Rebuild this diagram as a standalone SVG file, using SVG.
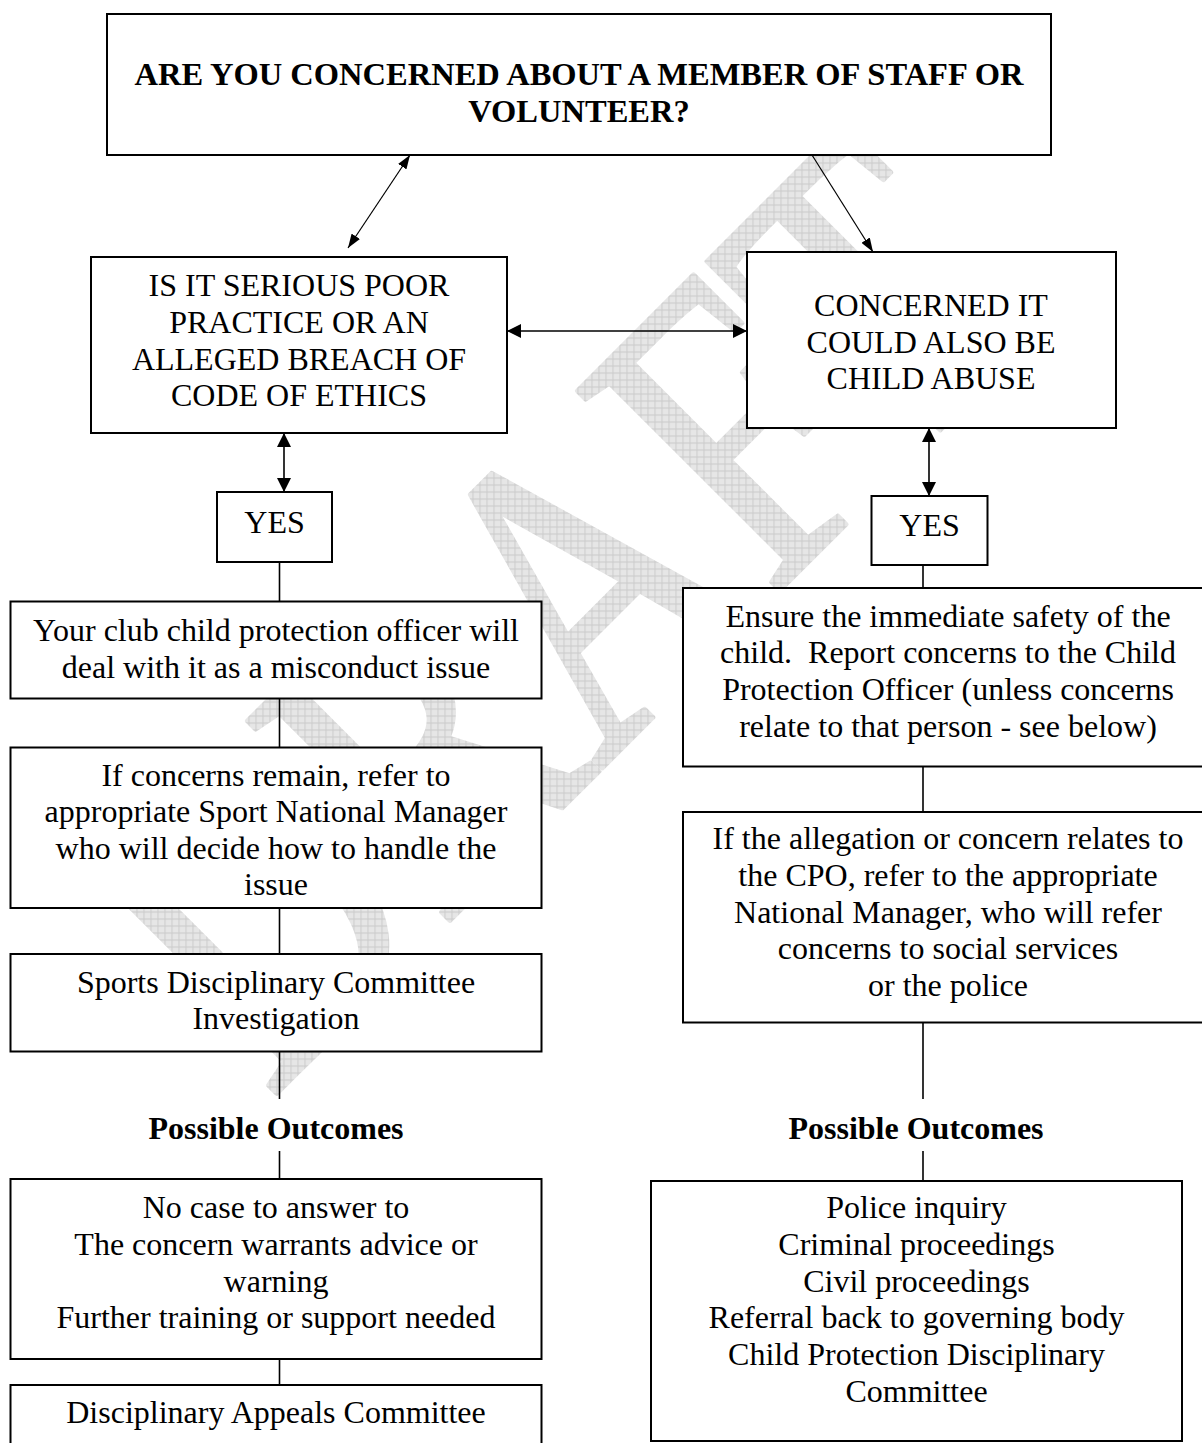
<svg xmlns="http://www.w3.org/2000/svg" width="1202" height="1443" viewBox="0 0 1202 1443">
<style>
.box{fill:#fff;stroke:#000;stroke-width:2}
.t{font-family:"Liberation Serif","Times New Roman",serif;font-size:32px;fill:#000;text-anchor:middle}
.b{font-weight:bold}
.h{font-size:32.5px}
.c{stroke:#000;stroke-width:1.6;fill:none}
.d{stroke:#000;stroke-width:1.2;fill:none}
.wm{font-family:"Liberation Serif","Times New Roman",serif;font-size:336px;fill:url(#grid);stroke:url(#grid);stroke-width:4;stroke-linejoin:round;text-anchor:start}
</style>
<defs>
<pattern id="grid" width="7" height="7" patternUnits="userSpaceOnUse" patternTransform="scale(1,0.7752) rotate(45)">
<rect width="7" height="7" fill="#e6e6e6"/>
<path d="M0,0.5H7M0.5,0V7" stroke="#cbcbcb" stroke-width="1"/>
</pattern>
<marker id="ah" viewBox="0 0 14 14" refX="14" refY="7" markerWidth="14" markerHeight="14" markerUnits="userSpaceOnUse" orient="auto-start-reverse"><path d="M0,0L14,7L0,14z" fill="#000"/></marker>
<marker id="as" viewBox="0 0 14 10" refX="14" refY="5" markerWidth="14" markerHeight="10" markerUnits="userSpaceOnUse" orient="auto-start-reverse"><path d="M0,0L14,5L0,10z" fill="#000"/></marker>
</defs>
<rect width="1202" height="1443" fill="#fff"/>
<g id="watermark">
<text class="wm" transform="translate(269.5,1100.5) rotate(-45) scale(1,1.29)" x="0" y="0">DRAFT</text>
</g>
<g id="connectors">
<line class="d" x1="410" y1="155" x2="348" y2="248" marker-start="url(#as)" marker-end="url(#as)"/>
<line class="d" x1="812" y1="155" x2="873" y2="252" marker-end="url(#as)"/>
<line class="c" x1="507" y1="331" x2="747" y2="331" marker-start="url(#ah)" marker-end="url(#ah)"/>
<line class="c" x1="284" y1="433" x2="284" y2="492" marker-start="url(#ah)" marker-end="url(#ah)"/>
<line class="c" x1="929" y1="428" x2="929" y2="496" marker-start="url(#ah)" marker-end="url(#ah)"/>
<line class="c" x1="279.5" y1="562" x2="279.5" y2="601.5"/>
<line class="c" x1="279.5" y1="698.5" x2="279.5" y2="747.5"/>
<line class="c" x1="279.5" y1="908" x2="279.5" y2="954"/>
<line class="c" x1="279.5" y1="1051.5" x2="279.5" y2="1099"/>
<line class="c" x1="279.5" y1="1151" x2="279.5" y2="1179"/>
<line class="c" x1="279.5" y1="1359" x2="279.5" y2="1385"/>
<line class="c" x1="923" y1="565" x2="923" y2="588"/>
<line class="c" x1="923" y1="766.5" x2="923" y2="812"/>
<line class="c" x1="923" y1="1022.5" x2="923" y2="1099"/>
<line class="c" x1="923" y1="1151" x2="923" y2="1181"/>
</g>
<g id="n-top">
<rect class="box" x="107" y="14" width="944" height="141"/>
<text class="t b h" x="579" y="85">ARE YOU CONCERNED ABOUT A MEMBER OF STAFF OR</text>
<text class="t b h" x="579" y="122">VOLUNTEER?</text>
</g>
<g id="n-poor-practice">
<rect class="box" x="91" y="257" width="416" height="176"/>
<text class="t" x="299" y="296">IS IT SERIOUS POOR</text>
<text class="t" x="299" y="333">PRACTICE OR AN</text>
<text class="t" x="299" y="369.5">ALLEGED BREACH OF</text>
<text class="t" x="299" y="406">CODE OF ETHICS</text>
</g>
<g id="n-child-abuse">
<rect class="box" x="747" y="252" width="369" height="176"/>
<text class="t" x="931" y="316">CONCERNED IT</text>
<text class="t" x="931" y="352.7">COULD ALSO BE</text>
<text class="t" x="931" y="389.3">CHILD ABUSE</text>
</g>
<g id="n-yes-left">
<rect class="box" x="217" y="492" width="115" height="70"/>
<text class="t" x="274.5" y="533">YES</text>
</g>
<g id="n-yes-right">
<rect class="box" x="871.5" y="496" width="116" height="69"/>
<text class="t" x="929.5" y="536">YES</text>
</g>
<g id="n-club-cpo">
<rect class="box" x="10.5" y="601.5" width="531" height="97"/>
<text class="t" x="276" y="641">Your club child protection officer will</text>
<text class="t" x="276" y="678">deal with it as a misconduct issue</text>
</g>
<g id="n-concerns-remain">
<rect class="box" x="10.5" y="747.5" width="531" height="160.5"/>
<text class="t" x="276" y="785.5">If concerns remain, refer to</text>
<text class="t" x="276" y="822">appropriate Sport National Manager</text>
<text class="t" x="276" y="858.5">who will decide how to handle the</text>
<text class="t" x="276" y="895">issue</text>
</g>
<g id="n-sports-committee">
<rect class="box" x="10.5" y="954" width="531" height="97.5"/>
<text class="t" x="276" y="993">Sports Disciplinary Committee</text>
<text class="t" x="276" y="1029">Investigation</text>
</g>
<g id="n-outcomes-left-label">
<text class="t b" x="276" y="1139">Possible Outcomes</text>
</g>
<g id="n-outcomes-left">
<rect class="box" x="10.5" y="1179" width="531" height="180"/>
<text class="t" x="276" y="1218">No case to answer to</text>
<text class="t" x="276" y="1255">The concern warrants advice or</text>
<text class="t" x="276" y="1291.7">warning</text>
<text class="t" x="276" y="1328.3">Further training or support needed</text>
</g>
<g id="n-appeals">
<rect class="box" x="10.5" y="1385" width="531" height="80"/>
<text class="t" x="276" y="1423">Disciplinary Appeals Committee</text>
</g>
<g id="n-ensure-safety">
<rect class="box" x="683" y="588" width="531" height="178.5"/>
<text class="t" x="948" y="626.7">Ensure the immediate safety of the</text>
<text class="t" x="948" y="663.3" xml:space="preserve">child.  Report concerns to the Child</text>
<text class="t" x="948" y="700">Protection Officer (unless concerns</text>
<text class="t" x="948" y="736.7">relate to that person - see below)</text>
</g>
<g id="n-cpo-allegation">
<rect class="box" x="683" y="812" width="531" height="210.5"/>
<text class="t" x="948" y="849.3">If the allegation or concern relates to</text>
<text class="t" x="948" y="886">the CPO, refer to the appropriate</text>
<text class="t" x="948" y="922.7">National Manager, who will refer</text>
<text class="t" x="948" y="959.3">concerns to social services</text>
<text class="t" x="948" y="996">or the police</text>
</g>
<g id="n-outcomes-right-label">
<text class="t b" x="916" y="1139">Possible Outcomes</text>
</g>
<g id="n-outcomes-right">
<rect class="box" x="651" y="1181" width="531" height="260"/>
<text class="t" x="916.5" y="1218.3">Police inquiry</text>
<text class="t" x="916.5" y="1255">Criminal proceedings</text>
<text class="t" x="916.5" y="1291.7">Civil proceedings</text>
<text class="t" x="916.5" y="1328.3">Referral back to governing body</text>
<text class="t" x="916.5" y="1365">Child Protection Disciplinary</text>
<text class="t" x="916.5" y="1401.7">Committee</text>
</g>
</svg>
